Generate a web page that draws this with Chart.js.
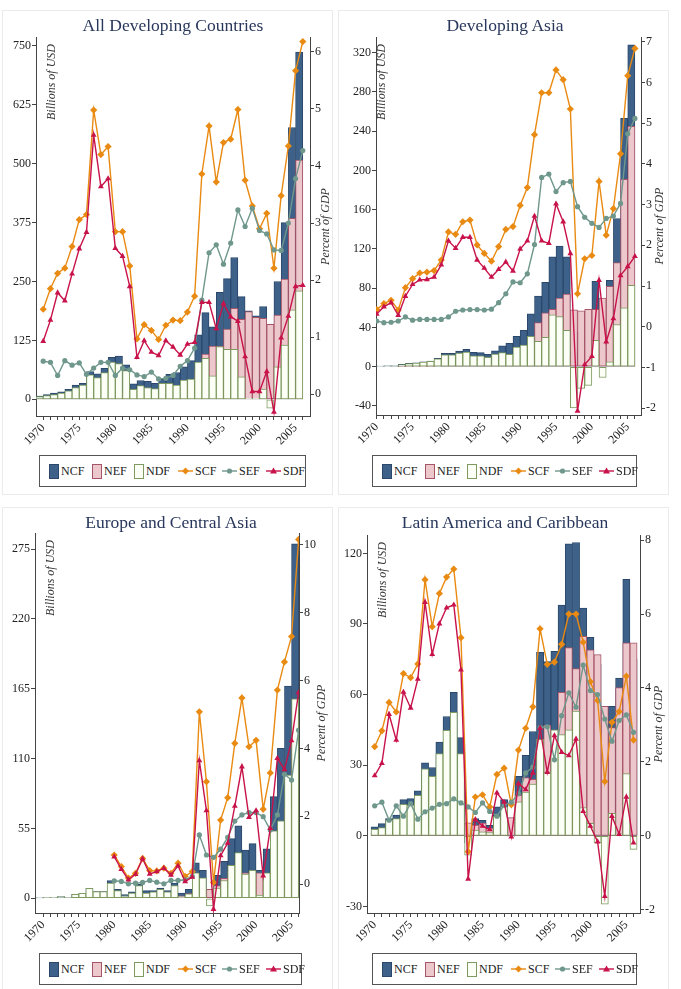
<!DOCTYPE html>
<html>
<head>
<meta charset="utf-8">
<script src="https://cdn.jsdelivr.net/npm/chart.js@4.4.1/dist/chart.umd.min.js"></script>
<style>
  body { margin:0; background:#fff; width:681px; height:989px; overflow:hidden; position:relative;
         font-family:"Liberation Serif","DejaVu Serif",serif; }
  .panel { position:absolute; width:331px; height:485px; background:#fff; outline:1px solid #ebebeb; outline-offset:-1px; }
  .panel canvas { position:absolute; left:0; top:0; }
  .ttl { position:absolute; top:7px; font-size:17.5px; line-height:17px; color:#28375b; white-space:nowrap; transform:translateX(-50%); }
  .legend { position:absolute; height:32px; border:1px solid #555; box-sizing:border-box; background:#fff;
            font-size:12px; color:#222; white-space:nowrap; }
  .it { position:absolute; top:0; height:30px; display:flex; align-items:center; }
  .sw { display:inline-block; width:8px; height:13px; border:1px solid; margin-right:2px; }
  .it svg { margin-right:2px; }
</style>
</head>
<body>
<script>
// ---- data ----
const years = [1970,1971,1972,1973,1974,1975,1976,1977,1978,1979,1980,1981,1982,1983,1984,1985,1986,1987,1988,1989,
               1990,1991,1992,1993,1994,1995,1996,1997,1998,1999,2000,2001,2002,2003,2004,2005,2006];
const yearLabels = [1970,1975,1980,1985,1990,1995,2000,2005];

// All Developing Countries
const allNCF = [7,10,13,16,21,30,34,59,54,66,89,92,73,33,40,38,34,43,53,57,69,82,137,184,154,227,256,301,218,188,177,197,145,250,375,577,737];
const allNEF = [1,2,3,3,3,5,4,7,8,9,10,16,12,12,11,13,11,9,19,27,28,39,58,96,113,113,149,193,170,186,174,172,159,179,255,384,508];
const allNDF = [6,8,10,13,18,25,30,52,46,57,79,76,61,21,29,25,23,34,34,30,41,43,79,87,50,112,106,106,48,2,2,22,-19,69,115,190,230];
const allSCF = [1.49,1.85,2.12,2.21,2.59,3.06,3.15,4.98,4.20,4.34,2.85,2.85,2.25,0.97,1.22,1.12,0.96,1.21,1.30,1.29,1.44,1.72,3.86,4.70,3.72,4.41,4.47,4.99,3.75,3.30,2.90,3.17,2.21,3.48,4.35,5.67,6.18];
const allSEF = [0.58,0.56,0.33,0.59,0.51,0.55,0.35,0.46,0.56,0.56,0.33,0.46,0.43,0.34,0.31,0.39,0.27,0.28,0.33,0.49,0.59,0.81,1.65,2.48,2.62,2.28,2.65,3.23,2.94,3.26,2.87,2.81,2.53,2.52,3.00,3.78,4.27];
const allSDF = [0.93,1.30,1.78,1.64,2.11,2.55,2.84,4.54,3.64,3.78,2.56,2.42,1.89,0.65,0.94,0.74,0.68,0.94,0.83,0.69,0.88,0.91,1.61,1.61,1.15,1.59,1.36,1.28,0.66,0.05,0.05,0.40,-0.31,0.99,1.37,1.89,1.91];
const allUsdTicks = [0,125,250,375,500,625,750];
const allGdpTicks = [0,1,2,3,4,5,6];

// Developing Asia
const asiaNCF = [0.5,0.7,0.8,1,2.4,3.4,4,5,5.8,8.5,13.6,13.6,16,17.7,14.6,14.3,12.6,16.3,21.4,23.8,31,37,54,72,86,112,123,112,16,35,40,87,59,88,151,253,328];
const asiaNEF = [0,0,0,0,0.1,0.2,0.2,0.3,0.4,0.5,1.5,2,2.5,2.5,3,3,3,3.5,7,11,11,15,23,45,55,58.5,70,74,58,57,58.5,58.5,70,82,106,191,245];
const asiaNDF = [0.5,0.7,0.8,1,2.3,3.2,3.8,4.7,5.4,8,12,12,14,15,11,11,9.5,13,14.3,12.6,20,22,31,26,30,53,51,37,-42,-22,-19,27,-11,5,43,60,83];
const asiaSCF = [0.42,0.57,0.65,0.41,0.96,1.18,1.32,1.34,1.38,1.64,2.33,2.27,2.58,2.62,2.01,1.80,1.61,1.97,2.39,2.46,2.98,3.42,4.72,5.75,5.75,6.31,6.07,5.35,0.81,1.67,1.75,3.57,2.25,2.90,4.25,6.17,6.84];
const asiaSEF = [0.14,0.10,0.11,0.14,0.24,0.16,0.18,0.18,0.18,0.18,0.24,0.38,0.41,0.42,0.42,0.41,0.43,0.59,0.81,1.10,1.08,1.30,2.02,3.67,3.75,3.32,3.54,3.57,2.95,2.69,2.54,2.44,2.66,2.72,3.03,4.74,5.12];
const asiaSDF = [0.31,0.49,0.59,0.28,0.75,1.04,1.15,1.16,1.22,1.52,2.11,1.93,2.20,2.20,1.64,1.44,1.22,1.41,1.59,1.37,1.91,2.11,2.72,2.11,2.05,3.02,2.58,1.80,-2.07,-0.93,-0.73,1.14,-0.37,0.20,1.26,1.48,1.73];
const asiaUsdTicks = [-40,0,40,80,120,160,200,240,280,320];
const asiaGdpTicks = [-2,-1,0,1,2,3,4,5,6,7];

// Europe and Central Asia
const ecaNCF = [0.3,0.8,0.8,1.3,0.8,3.1,3.9,7.9,5.2,5.2,14,7,3,5,11,6,6,8,6,12,4,7,28,22,0.5,18,29,47,57,38,43,22,39,80,118,167,279];
const ecaNEF = [0,0,0,0,0,0,0,0,0,0,1.6,1.3,0.2,0.5,0.8,1.8,1,0.2,1.8,1.9,2,3.7,8,6.3,7,10,15.7,21,21,20,21,20,19,28.5,58,70,125];
const ecaNDF = [0.3,0.8,0.8,1.3,0.8,3.1,3.9,7.9,5.2,5.2,12,6,2,4,10,4,5,7,5,10,1.3,3.4,20,16,-6,8,14,26,36,19,22,2.5,20,53,61,97,157];
const ecaSCF = [null,null,null,null,null,null,null,null,null,null,0.86,0.52,0.18,0.32,0.76,0.40,0.39,0.47,0.32,0.62,0.23,0.37,5.08,3.02,0.05,1.89,2.55,4.15,5.49,4.05,4.24,2.21,3.28,5.72,6.55,7.30,10.16];
const ecaSEF = [null,null,null,null,null,null,null,null,null,null,0.10,0.08,0.01,0.03,0.05,0.11,0.06,0.01,0.11,0.11,0.13,0.23,1.45,0.86,0.79,1.03,1.38,1.86,2.04,2.11,2.11,1.99,1.60,2.04,3.24,3.07,4.54];
const ecaSDF = [null,null,null,null,null,null,null,null,null,null,0.81,0.44,0.13,0.29,0.75,0.30,0.37,0.47,0.27,0.54,0.08,0.21,3.64,2.17,-0.74,0.84,1.21,2.30,3.46,1.97,2.17,0.25,1.65,3.71,3.38,4.23,5.65];
const ecaUsdTicks = [0,55,110,165,220,275];
const ecaGdpTicks = [0,2,4,6,8,10];

// Latin America and Caribbean
const lacNCF = [3.8,5.2,7.3,8.8,15.4,15.8,19.1,31,29,39.8,50.7,61,41.7,-3,7.3,6.6,4.5,12.3,15.4,7.5,25.3,34.2,44.3,78,74,78.4,98,124,124.6,96.8,84.3,73,26,55,67,109,75];
const lacNEF = [1.3,1.5,0.8,1.5,2,3.3,2,3,4,5,6.3,8.4,6.9,5.5,4.6,5.4,3.3,3.9,7,7.7,17.2,24.7,24,41,47,34,61,80,71,84.7,79,77,55,46,63,82,82];
const lacNDF = [2.7,3.5,6.6,7.3,13.4,13,17.2,28.5,25.3,34.9,44.8,52.5,34.9,-8.2,2.4,1.7,1.4,8.3,12.3,-0.3,14.4,18.6,22,41,27,45,43,45,53,12,5.3,-3,-29,9.5,0.8,26.4,-5.8];
const lacSCF = [2.41,2.84,3.61,3.35,4.39,4.28,4.65,6.93,5.66,6.56,7.00,7.22,5.36,-0.43,1.05,1.11,0.78,1.66,1.83,0.84,2.32,2.91,3.49,5.60,4.64,4.70,5.18,6.00,6.00,5.24,4.17,3.66,1.47,3.07,3.36,4.32,2.59];
const lacSEF = [0.81,0.91,0.42,0.81,0.53,0.87,0.45,0.65,0.75,0.85,0.87,1.00,0.89,0.78,0.63,0.89,0.66,0.53,0.83,0.91,1.14,1.70,1.86,2.93,2.95,2.06,3.25,3.87,3.48,4.62,3.93,3.82,3.16,2.56,3.12,3.27,2.80];
const lacSDF = [1.63,1.96,3.29,2.59,3.89,3.46,4.24,6.32,4.91,5.74,6.17,6.25,4.49,-1.17,0.44,0.26,0.17,1.16,0.91,-0.03,1.41,1.25,1.70,2.91,1.72,2.71,2.26,2.17,2.62,0.66,0.26,-0.16,-1.64,0.53,0.04,1.05,-0.19];
const lacUsdTicks = [-30,0,30,60,90,120];
const lacGdpTicks = [-2,0,2,4,6,8];

// ---- styles ----
const NCF_FILL = '#3d6189', NCF_EDGE = '#2b486b';
const NEF_FILL = '#ecc8cd', NEF_EDGE = '#a65468';
const NDF_FILL = '#fbfff6', NDF_EDGE = '#7e9a60';
const SCF_COL = '#e98a12', SEF_COL = '#6f978c', SDF_COL = '#c8124a';
const AXIS_COL = '#444';
const FONT = '"Liberation Serif", "DejaVu Serif", serif';
const W = 331, H = 485;
const LEGEND_SLOTS = [9, 52, 94, 138, 182, 226];   // item offsets inside the legend box

const panels = [
  { title: 'All Developing Countries', pos: [2, 10], titleX: 171, barShift: -0.5,
    ncf: allNCF, nef: allNEF, ndf: allNDF, scf: allSCF, sef: allSEF, sdf: allSDF,
    usdTicks: allUsdTicks, gdpTicks: allGdpTicks,
    xMin: 1969, xMax: 2007, usd: [-35.4, 769], gdp: [-0.38, 6.26],
    frame: { left: 34, right: 308, top: 27, bottom: 406 }, leftOff: 16, rightOff: 16,
    legend: { left: 37, top: 445, width: 267 } },
  { title: 'Developing Asia', pos: [338, 10], titleX: 167, barShift: -0.5,
    ncf: asiaNCF, nef: asiaNEF, ndf: asiaNDF, scf: asiaSCF, sef: asiaSEF, sdf: asiaSDF,
    usdTicks: asiaUsdTicks, gdpTicks: asiaGdpTicks,
    xMin: 1969.9, xMax: 2006.85, usd: [-49.2, 336], gdp: [-2.17, 7.12],
    frame: { left: 38, right: 303, top: 27, bottom: 405 }, leftOff: 6, rightOff: 19,
    legend: { left: 34, top: 445, width: 265 } },
  { title: 'Europe and Central Asia', pos: [2, 507], titleX: 169, barShift: -0.5,
    ncf: ecaNCF, nef: ecaNEF, ndf: ecaNDF, scf: ecaSCF, sef: ecaSEF, sdf: ecaSDF,
    usdTicks: ecaUsdTicks, gdpTicks: ecaGdpTicks,
    xMin: 1968.83, xMax: 2006.05, usd: [-11.6, 287.6], gdp: [-0.85, 10.35],
    frame: { left: 33, right: 297, top: 26, bottom: 406 }, leftOff: 16, rightOff: 23,
    legend: { left: 37, top: 446, width: 263 } },
  { title: 'Latin America and Caribbean', pos: [338, 507], titleX: 167, barShift: 0,
    ncf: lacNCF, nef: lacNEF, ndf: lacNDF, scf: lacSCF, sef: lacSEF, sdf: lacSDF,
    usdTicks: lacUsdTicks, gdpTicks: lacGdpTicks,
    xMin: 1968.93, xMax: 2006.9, usd: [-32.8, 127.8], gdp: [-2.09, 8.14],
    frame: { left: 29, right: 302, top: 28, bottom: 406 }, leftOff: 16, rightOff: 19,
    legend: { left: 34, top: 446, width: 265 } },
];

// axis titles sit inside the frame like the original
const axisTitles = {
  id: 'axisTitles',
  afterDraw(chart, args, opts) {
    const { ctx, chartArea: a } = chart;
    ctx.save();
    ctx.fillStyle = '#333';
    ctx.font = 'italic 12px ' + FONT;
    ctx.textBaseline = 'middle';
    ctx.translate(a.left + opts.leftOff, a.top + 7);
    ctx.rotate(-Math.PI / 2);
    ctx.textAlign = 'right';
    ctx.fillText('Billions of USD', 0, 0);
    ctx.restore();
    ctx.save();
    ctx.fillStyle = '#333';
    ctx.font = 'italic 12px ' + FONT;
    ctx.textBaseline = 'middle';
    ctx.translate(a.right + opts.rightOff, (a.top + a.bottom) / 2);
    ctx.rotate(-Math.PI / 2);
    ctx.textAlign = 'center';
    ctx.fillText('Percent of GDP', 0, 0);
    ctx.restore();
  }
};

function barSet(label, vals, fill, edge, order, shift) {
  return {
    type: 'bar', label, order,
    data: years.map((y, i) => ({ x: y + shift, y: vals[i] })),
    backgroundColor: fill, borderColor: edge, borderWidth: 1, borderSkipped: false,
    barPercentage: 1, categoryPercentage: 1, grouped: false,
    xAxisID: 'x', yAxisID: 'y',
  };
}

function lineSet(label, vals, color, style, radius, order) {
  return {
    type: 'line', label, order,
    data: years.map((y, i) => ({ x: y, y: vals[i] })),
    borderColor: color, backgroundColor: color, borderWidth: 1.4,
    pointStyle: style, pointRadius: radius, pointBorderWidth: 0,
    tension: 0, spanGaps: false,
    xAxisID: 'x', yAxisID: 'y1',
  };
}

function legendHtml(l) {
  const items = [
    `<i class="sw" style="background:${NCF_FILL};border-color:${NCF_EDGE}"></i>NCF`,
    `<i class="sw" style="background:${NEF_FILL};border-color:${NEF_EDGE}"></i>NEF`,
    `<i class="sw" style="background:${NDF_FILL};border-color:${NDF_EDGE}"></i>NDF`,
    `<svg width="15" height="10"><line x1="0" y1="5" x2="15" y2="5" stroke="${SCF_COL}" stroke-width="1.4"/><path d="M7.5 1.5 L11 5 L7.5 8.5 L4 5 Z" fill="${SCF_COL}"/></svg>SCF`,
    `<svg width="15" height="10"><line x1="0" y1="5" x2="15" y2="5" stroke="${SEF_COL}" stroke-width="1.4"/><circle cx="7.5" cy="5" r="2.6" fill="${SEF_COL}"/></svg>SEF`,
    `<svg width="15" height="10"><line x1="0" y1="5" x2="15" y2="5" stroke="${SDF_COL}" stroke-width="1.4"/><path d="M7.5 1.5 L11 7.5 L4 7.5 Z" fill="${SDF_COL}"/></svg>SDF`,
  ];
  return `<div class="legend" style="left:${l.left}px;top:${l.top}px;width:${l.width}px">` +
    items.map((h, i) => `<span class="it" style="left:${LEGEND_SLOTS[i]}px">${h}</span>`).join('') +
    `</div>`;
}

function axisOpts(extra) {
  return Object.assign({
    grid: { display: true, drawOnChartArea: false, drawTicks: true, tickLength: 4, color: AXIS_COL, offset: false },
    border: { display: true, color: AXIS_COL, width: 1 },
  }, extra);
}

panels.forEach(p => {
  const box = document.createElement('div');
  box.className = 'panel';
  box.style.left = p.pos[0] + 'px';
  box.style.top = p.pos[1] + 'px';
  document.body.appendChild(box);

  const cv = document.createElement('canvas');
  cv.width = W; cv.height = H;
  box.appendChild(cv);

  const ttl = document.createElement('div');
  ttl.className = 'ttl';
  ttl.style.left = p.titleX + 'px';
  ttl.textContent = p.title;
  box.appendChild(ttl);

  new Chart(cv.getContext('2d'), {
    type: 'bar',
    data: {
      datasets: [
        barSet('NCF', p.ncf, NCF_FILL, NCF_EDGE, 6, p.barShift),
        barSet('NEF', p.nef, NEF_FILL, NEF_EDGE, 5, p.barShift),
        barSet('NDF', p.ndf, NDF_FILL, NDF_EDGE, 4, p.barShift),
        lineSet('SCF', p.scf, SCF_COL, 'rectRot', 3.6, 3),
        lineSet('SEF', p.sef, SEF_COL, 'circle', 2.6, 2),
        lineSet('SDF', p.sdf, SDF_COL, 'triangle', 3.4, 1),
      ]
    },
    plugins: [axisTitles],
    options: {
      responsive: false, animation: false, devicePixelRatio: 1, events: [],
      layout: { padding: { top: p.frame.top, left: 0, right: 0, bottom: 0 } },
      plugins: {
        legend: { display: false }, tooltip: { enabled: false }, title: { display: false },
        axisTitles: { leftOff: p.leftOff, rightOff: p.rightOff },
      },
      scales: {
        x: axisOpts({
          type: 'linear', min: p.xMin, max: p.xMax, offset: false,
          afterBuildTicks: s => { s.ticks = years.map(v => ({ value: v })); },
          afterFit: s => { s.height = H - p.frame.bottom; s.paddingLeft = 0; s.paddingRight = 0; },
          ticks: { autoSkip: false, maxRotation: 45, minRotation: 45, padding: 1, color: '#222',
                   font: { family: FONT, size: 12 },
                   callback: v => yearLabels.includes(v) ? String(v) : '' },
        }),
        y: axisOpts({
          position: 'left', min: p.usd[0], max: p.usd[1],
          afterBuildTicks: s => { s.ticks = p.usdTicks.map(v => ({ value: v })); },
          afterFit: s => { s.width = p.frame.left; },
          ticks: { padding: 1, color: '#222', font: { family: FONT, size: 12 }, callback: v => String(v) },
        }),
        y1: axisOpts({
          position: 'right', min: p.gdp[0], max: p.gdp[1],
          afterBuildTicks: s => { s.ticks = p.gdpTicks.map(v => ({ value: v })); },
          afterFit: s => { s.width = W - p.frame.right; },
          ticks: { padding: 1, color: '#222', font: { family: FONT, size: 12 }, callback: v => String(v) },
        }),
      }
    }
  });

  box.insertAdjacentHTML('beforeend', legendHtml(p.legend));
});
</script>
</body>
</html>
